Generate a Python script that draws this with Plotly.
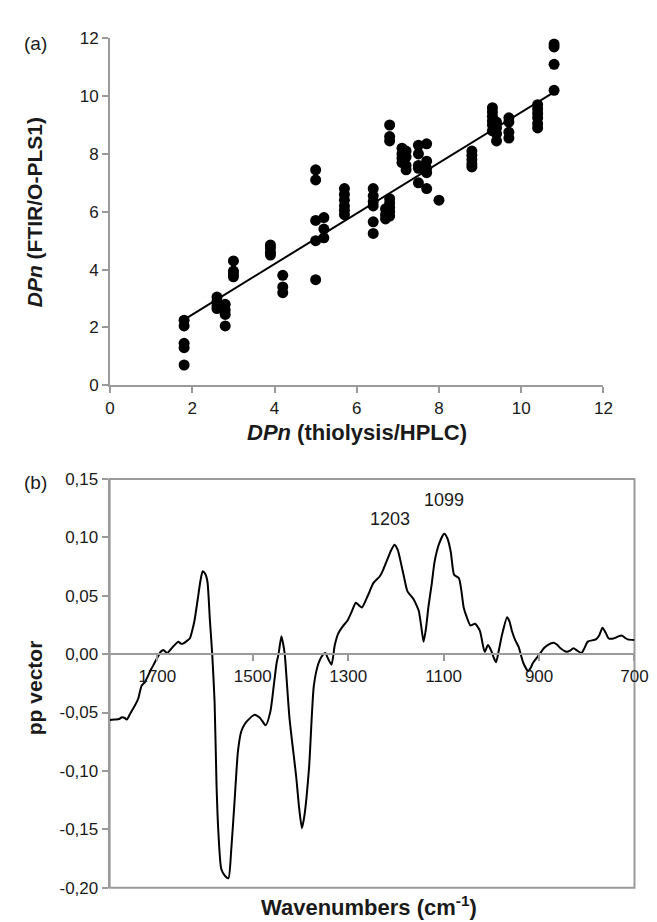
import plotly.graph_objects as go

# ---------------- Panel (a) data ----------------
dp_thiolysis = (
    [1.8] * 5 + [2.6] * 4 + [2.8] * 4 + [3.0] * 4 + [3.9] * 4 + [4.2] * 3 +
    [5.0] * 5 + [5.2] * 3 + [5.7] * 6 + [6.4] * 6 + [6.7] * 3 + [6.8] * 8 +
    [7.1] * 4 + [7.2] * 4 + [7.5] * 5 + [7.7] * 5 + [8.0] * 1 + [8.8] * 5 +
    [9.3] * 6 + [9.4] * 4 + [9.7] * 4 + [10.4] * 6 + [10.8] * 4
)
dp_ftir = (
    [2.25, 2.05, 1.45, 1.3, 0.7] +
    [3.05, 2.9, 2.75, 2.65] +
    [2.8, 2.6, 2.45, 2.05] +
    [4.3, 3.95, 3.85, 3.75] +
    [4.85, 4.75, 4.6, 4.5] +
    [3.8, 3.4, 3.2] +
    [7.45, 7.1, 5.7, 5.0, 3.65] +
    [5.8, 5.4, 5.1] +
    [6.8, 6.6, 6.4, 6.2, 6.05, 5.9] +
    [6.8, 6.55, 6.35, 6.2, 5.65, 5.25] +
    [6.1, 5.9, 5.75] +
    [9.0, 8.6, 8.45, 6.45, 6.3, 6.15, 6.0, 5.85] +
    [8.2, 8.0, 7.85, 7.7] +
    [8.1, 7.9, 7.6, 7.45] +
    [8.3, 8.0, 7.6, 7.5, 7.0] +
    [8.35, 7.75, 7.5, 7.35, 6.8] +
    [6.4] +
    [8.1, 7.95, 7.8, 7.65, 7.55] +
    [9.6, 9.45, 9.3, 9.15, 9.0, 8.8] +
    [9.1, 8.9, 8.7, 8.45] +
    [9.25, 9.1, 8.75, 8.55] +
    [9.7, 9.55, 9.4, 9.25, 9.05, 8.9] +
    [11.8, 11.7, 11.1, 10.2]
)
fit_x = [1.8, 10.8]
fit_y = [2.27, 10.14]
a_ticks = [0, 2, 4, 6, 8, 10, 12]

# ---------------- Panel (b) data ----------------
wavenumber = [
    1800, 1790, 1780, 1774, 1769, 1764, 1757, 1747, 1740, 1733, 1726, 1720, 1713, 1706,
    1696, 1693, 1687, 1683, 1679, 1668, 1656, 1651, 1646, 1639, 1632, 1627, 1622, 1615,
    1610, 1605, 1600, 1595, 1590, 1585, 1580, 1576, 1572, 1566, 1558, 1551, 1545, 1538,
    1531, 1524, 1517, 1510, 1497, 1490, 1484, 1473, 1463, 1456, 1450, 1446, 1440, 1436,
    1433, 1423, 1409, 1403, 1397, 1392, 1382, 1372, 1362, 1352, 1348, 1342, 1335, 1328,
    1321, 1311, 1301, 1292, 1284, 1278, 1271, 1259, 1247, 1234, 1227, 1220, 1210, 1203,
    1196, 1190, 1183, 1176, 1163, 1157, 1152, 1147, 1142, 1137, 1132, 1125, 1119, 1110,
    1099, 1092, 1085, 1078, 1068, 1063, 1058, 1050, 1044, 1034, 1024, 1021, 1014, 1007,
    1001, 995, 990, 984, 977, 967, 962, 957, 950, 943, 933, 923, 918, 913,
    899, 890, 882, 869, 862, 855, 842, 835, 828, 820, 811, 805, 798, 781,
    774, 767, 760, 754, 744, 735, 727, 720, 714, 700,
]
pp_vector = [
    -0.0565, -0.056, -0.0555, -0.054, -0.0545, -0.056, -0.051, -0.044, -0.038, -0.027, -0.024, -0.019, -0.013, -0.0076,
    0.0, 0.002, 0.0036, 0.002, 0.001, 0.006, 0.0107, 0.009, 0.009, 0.011, 0.0134, 0.020, 0.029, 0.048,
    0.062, 0.071, 0.069, 0.062, 0.030, 0.0, -0.041, -0.111, -0.153, -0.184, -0.190, -0.192, -0.167, -0.125,
    -0.083, -0.066, -0.060, -0.0565, -0.052, -0.053, -0.055, -0.061, -0.049, -0.027, -0.0076, 0.0, 0.0154, 0.008,
    0.0, -0.055, -0.105, -0.131, -0.149, -0.139, -0.097, -0.027, -0.0076, 0.0, 0.001, -0.004, -0.009, 0.008,
    0.0176, 0.024, 0.029, 0.037, 0.044, 0.042, 0.040, 0.050, 0.061, 0.0665, 0.072, 0.079, 0.089, 0.0937,
    0.089, 0.079, 0.066, 0.054, 0.047, 0.042, 0.037, 0.024, 0.0107, 0.022, 0.040, 0.060, 0.079, 0.094,
    0.103, 0.099, 0.0875, 0.068, 0.065, 0.055, 0.040, 0.030, 0.0246, 0.026, 0.020, 0.0148, 0.002, 0.0078,
    0.0036, -0.003, -0.007, 0.004, 0.0176, 0.0316, 0.028, 0.020, 0.012, 0.0064, -0.0076, -0.0145, -0.012, -0.0076,
    0.0, 0.005, 0.0078, 0.0098, 0.008, 0.005, 0.002, 0.003, 0.005, 0.003, 0.001, 0.005, 0.0107, 0.0126,
    0.016, 0.0226, 0.018, 0.0134, 0.0134, 0.015, 0.016, 0.014, 0.0126, 0.012,
]
b_xticks = [1700, 1500, 1300, 1100, 900, 700]
b_yticks = [0.15, 0.10, 0.05, 0.00, -0.05, -0.10, -0.15, -0.20]
b_yticktext = ["0,15", "0,10", "0,05", "0,00", "-0,05", "-0,10", "-0,15", "-0,20"]
peak_wn = [1203, 1099]
peak_labels = ["1203", "1099"]

# ---------------- layout geometry ----------------
W, H = 657, 922
FONT = "Arial, Liberation Sans, sans-serif"
AX = "#9a9a9a"
TXT = "#1a1a1a"


def fx(px):
    return px / W


def fy(py):
    return (H - py) / H


a_xdom = [fx(100), fx(608)]
a_ydom = [fy(376), fy(21.7)]
b_xdom = [fx(99.5), fx(640)]
b_ydom = [fy(889), fy(471.7)]
b_yrange = [-0.20, 0.15]
zero_pos = b_ydom[0] + (0 - b_yrange[0]) / (b_yrange[1] - b_yrange[0]) * (b_ydom[1] - b_ydom[0])

fig = go.Figure()

fig.add_trace(go.Scatter(
    x=dp_thiolysis, y=dp_ftir, mode="markers",
    marker=dict(color="black", size=11),
    xaxis="x", yaxis="y", showlegend=False, hoverinfo="skip"))
fig.add_trace(go.Scatter(
    x=fit_x, y=fit_y, mode="lines",
    line=dict(color="black", width=2),
    xaxis="x", yaxis="y", showlegend=False, hoverinfo="skip"))
fig.add_trace(go.Scatter(
    x=wavenumber, y=pp_vector, mode="lines",
    line=dict(color="black", width=2, shape="spline", smoothing=0.6),
    xaxis="x2", yaxis="y2", showlegend=False, hoverinfo="skip"))

axis_common = dict(
    showgrid=False, zeroline=False, showline=True, linecolor=AX, linewidth=2,
    ticks="outside", ticklen=6, tickcolor=AX, tickwidth=1.5,
    tickfont=dict(family=FONT, size=17, color=TXT),
)

fig.update_layout(
    width=W, height=H,
    margin=dict(l=0, r=0, t=0, b=0),
    paper_bgcolor="white", plot_bgcolor="white",
    font=dict(family=FONT, color=TXT),
    showlegend=False,
    xaxis=dict(domain=a_xdom, range=[0, 12], tickvals=a_ticks, anchor="y", **axis_common),
    yaxis=dict(domain=a_ydom, range=[0, 12], tickvals=a_ticks, anchor="x", **axis_common),
    xaxis2=dict(domain=b_xdom, range=[1800, 700], tickvals=b_xticks, anchor="free",
                position=zero_pos, **axis_common),
    yaxis2=dict(domain=b_ydom, range=b_yrange, tickvals=b_yticks, ticktext=b_yticktext,
                anchor="x2", **axis_common),
    shapes=[dict(type="rect", xref="x2 domain", yref="y2 domain", x0=0, x1=1, y0=0, y1=1,
                 line=dict(color=AX, width=2), layer="below")],
)

ann = []
ann.append(dict(text="<b><i>DPn</i> (thiolysis/HPLC)</b>", x=fx(354), y=fy(424),
                xref="paper", yref="paper", showarrow=False,
                font=dict(family=FONT, size=22, color=TXT),
                xanchor="center", yanchor="middle"))
ann.append(dict(text="<b><i>DPn</i> (FTIR/O-PLS1)</b>", x=fx(23), y=fy(199),
                xref="paper", yref="paper", showarrow=False,
                font=dict(family=FONT, size=21, color=TXT),
                textangle=-90, xanchor="center", yanchor="middle"))
ann.append(dict(text="<b>pp vector</b>", x=fx(23), y=fy(685),
                xref="paper", yref="paper", showarrow=False,
                font=dict(family=FONT, size=21, color=TXT),
                textangle=-90, xanchor="center", yanchor="middle"))
ann.append(dict(text="<b>Wavenumbers (cm<sup>-1</sup>)</b>", x=fx(367), y=fy(908),
                xref="paper", yref="paper", showarrow=False,
                font=dict(family=FONT, size=22, color=TXT),
                xanchor="center", yanchor="middle"))
ann.append(dict(text="(a)", x=fx(23), y=fy(27), xref="paper", yref="paper", showarrow=False,
                font=dict(family=FONT, size=19, color=TXT), xanchor="center", yanchor="middle"))
ann.append(dict(text="(b)", x=fx(23), y=fy(475), xref="paper", yref="paper", showarrow=False,
                font=dict(family=FONT, size=19, color=TXT), xanchor="center", yanchor="middle"))
peak_vals = [pp_vector[wavenumber.index(w)] for w in peak_wn]
label_shift_x = [-4, 0]
label_shift_y = [26, 34]
for w, v, lab, sx, sy in zip(peak_wn, peak_vals, peak_labels, label_shift_x, label_shift_y):
    ann.append(dict(text=lab, x=w, y=v, xref="x2", yref="y2", showarrow=False,
                    xshift=sx, yshift=sy, font=dict(family=FONT, size=18, color=TXT),
                    xanchor="center", yanchor="middle"))
fig.update_layout(annotations=ann)

fig.write_html("out.html")
